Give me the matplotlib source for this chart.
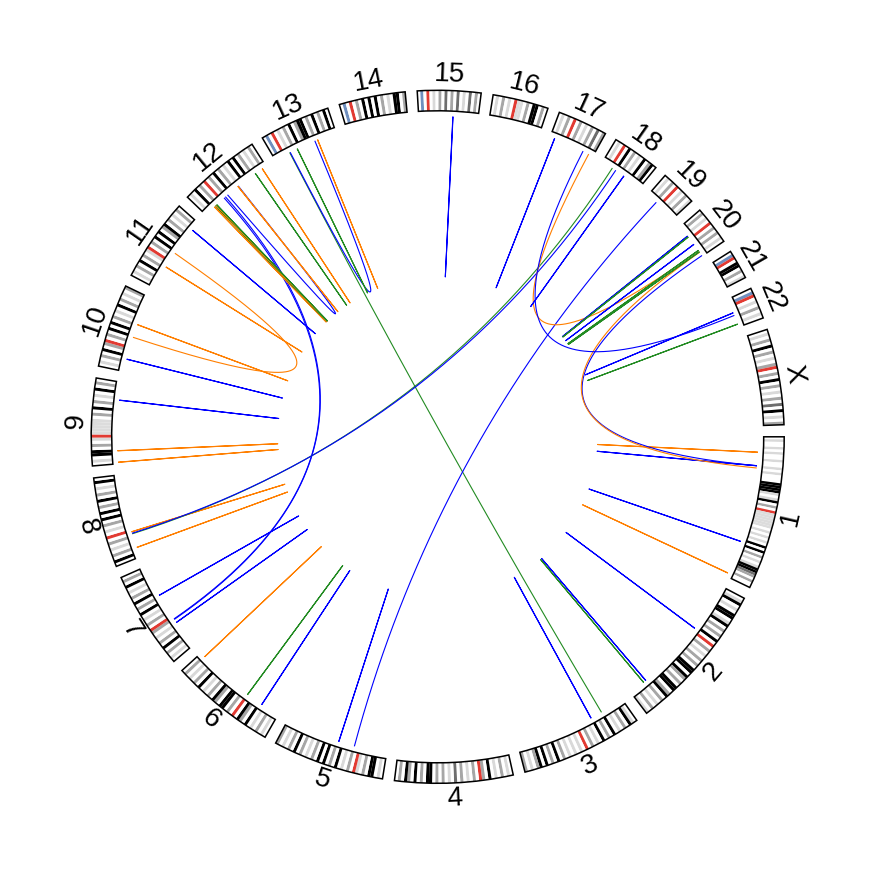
import numpy as np
import matplotlib
matplotlib.use("Agg")
import matplotlib.pyplot as plt
from matplotlib.patches import Wedge

# ---------------- data ----------------
chrom_names = ['1', '2', '3', '4', '5', '6', '7', '8', '9', '10', '11', '12',
               '13', '14', '15', '16', '17', '18', '19', '20', '21', '22', 'X']
chrom_len_mb = [249.25, 243.20, 198.02, 191.15, 180.92, 171.12, 159.14, 146.36,
                141.21, 135.53, 135.01, 133.85, 115.17, 107.35, 102.53, 90.35,
                81.20, 78.08, 59.13, 63.03, 48.13, 51.30, 155.27]

# band stains from p-ter to q-ter, equal-width segments
# w=gneg l=gpos25 m=gpos50 d=gpos75 k=gpos100 r=acen s=stalk v=gvar
band_codes = [
    "wlwwlwlwwlwwlwlww" + "wkkkk" + "lwlkwmw" + "r" + "vvvvvv" + "wlwlwlwkwkwm" + "wlwlkkdmwmww",
    "wlkwlwkkwlkwmwmwkw" + "r" + "wmwlwmwmwkkwkmwmwkkwmkwmwlwmwl",
    "wlkwmwlwkwmwkwlwmw" + "r" + "wlwlwlwmwkwmwkwkmwlwm",
    "wlwmwlwkwm" + "r" + "wmwlwmwdwlwmwmwkkwmwkwmkwmw",
    "wlwkkwmwl" + "r" + "wmwlwkwmwkwkwmwlwmwkwmwlwm",
    "wlwmwlwkwmkw" + "r" + "wmwkkwmkwmwlwkwmwlwmw",
    "wlwmwkwmwlwm" + "r" + "wmwlwkwmwkwmwlwkwmw",
    "wkwmwlwmw" + "r" + "wlwmwkwkwmwkwmwlwkw",
    "wlwkkwmwl" + "r" + "vvvvvwmwkwmwlwkwmw",
    "wlwmwkwm" + "r" + "wmwkwkwmwlwkwmwlwm",
    "wlwmwkwmwl" + "r" + "wmwkwkwmkwmwlwmw",
    "wlwkwmw" + "r" + "wmwkwmwlwkwkwmwlwmw",
    "wsw" + "r" + "wlwmwkwmkkwmwkwmwkw",
    "wsw" + "r" + "wmwkwkwkwmwlwkkwm",
    "wsw" + "r" + "wlwmwdwmwdwlwdwmw",
    "wlwmwlw" + "r" + "vvwmwkkwmw",
    "wlwmw" + "r" + "wmwlwmwdwm",
    "wlw" + "r" + "wkwmwlwkwmkw",
    "wlwmw" + "r" + "wlwmwl",
    "wmwlw" + "r" + "wmwmwlw",
    "ws" + "r" + "wkkwmwl",
    "ws" + "r" + "wlwmwlw",
    "wlwmwkwmwlwm" + "r" + "wmwkwmwlwmwdwkwlwm",
]
stain_colors = {'w': '#FFFFFF', 'l': '#D9D9D9', 'm': '#A6A6A6', 'd': '#6E6E6E',
                'k': '#000000', 'r': '#E23A32', 's': '#6F8FBF', 'v': '#DCDCDC'}

# links (genomic positions in Mb)
link_chr_a = ['1', '1', '1', '1', '1', '1', '2', '2', '2', '3', '3', '5', '5',
              '6', '6', '6', '7', '7', '7', '7', '8', '8', '8', '8', '9', '9',
              '9', '10', '10', '10', '11', '11', '12', '12', '12', '12', '12',
              '12', '12', '12', '13', '13', '13', '15', '17', '17', '17', '18',
              '20', '20', '20', '20', '20', '22', '22']
link_pos_a = [26.5, 50, 50, 54, 184, 243, 86, 210, 215, 62.5, 42, 85, 57,
              33, 63, 162, 104, 48.5, 56, 55, 45.5, 42, 43, 17, 110, 22.4,
              2.5, 21.5, 84, 61, 40.5, 119, 20, 23, 24, 25.5, 51,
              74, 111.5, 126, 29, 81, 42.5, 59, 8, 73, 62, 44,
              20, 22, 38, 51, 54, 25, 46]
link_chr_b = ['1', '1', '20', '20', '1', '1', '2', '2', '2', '3', '13', '5', '19',
              '6', '6', '6', '7', '7', '12', '12', '8', '18', '18', '8', '9', '9',
              '9', '10', '10', '11', '11', '11', '12', '12', '12', '12', '12',
              '12', '12', '12', '13', '13', '13', '15', '17', '20', '22', '18',
              '20', '20', '20', '20', '20', '22', '22']
link_pos_b = [26.8, 50.3, 62, 55, 184.3, 243.3, 86.3, 210.3, 215.3, 62.8, 28, 85.3, 19,
              33.3, 63.3, 162.3, 104.3, 48.8, 43, 46, 45.8, 20, 27, 17.3, 110.3, 22.7,
              2.8, 21.8, 84.3, 69, 40.8, 119.3, 20.3, 23.3, 24.3, 25.8, 75,
              74.3, 111.8, 126.3, 76, 81.3, 42.8, 59.3, 8.3, 52, 30, 44.3,
              20.3, 22.3, 38.3, 51.3, 54.3, 25.3, 46.3]
link_color = ['orange', 'blue', 'blue', 'orange', 'blue', 'orange', 'blue', 'blue',
              'green', 'blue', 'green', 'blue', 'blue', 'blue', 'green', 'orange',
              'blue', 'blue', 'blue', 'blue', 'orange', 'green', 'blue', 'orange',
              'blue', 'orange', 'orange', 'blue', 'orange', 'orange', 'orange',
              'blue', 'orange', 'green', 'orange', 'green', 'blue', 'orange',
              'green', 'orange', 'blue', 'orange', 'green', 'blue', 'blue',
              'orange', 'blue', 'blue', 'blue', 'green', 'blue', 'green', 'green',
              'blue', 'green']
color_map = {'blue': '#0000FF', 'orange': '#FF7F00', 'green': '#228B22'}

# ---------------- geometry ----------------
W = H = 875
CX, CY = 437.7, 436.8
R_LINK, R_IN, R_OUT, R_LABEL = 320.0, 326.0, 346.5, 362.0
GAP = 2.0
DEG_PER_MB = (360.0 - GAP * len(chrom_names)) / sum(chrom_len_mb)

chrom_start = {}
acc = 0.0
for name, ln in zip(chrom_names, chrom_len_mb):
    chrom_start[name] = acc
    acc += ln * DEG_PER_MB + GAP


def screen_angle(chrom, pos):
    return chrom_start[chrom] + pos * DEG_PER_MB


def xy(theta_deg, r):
    t = np.deg2rad(-theta_deg)
    return r * np.cos(t), r * np.sin(t)


fig = plt.figure(figsize=(W / 100, H / 100), dpi=100)
ax = fig.add_axes([0, 0, 1, 1])
ax.set_xlim(-CX, W - CX)
ax.set_ylim(-(H - CY), CY)
ax.set_aspect('equal')
ax.axis('off')

# ideogram
for name, ln, codes in zip(chrom_names, chrom_len_mb, band_codes):
    a0 = chrom_start[name]
    span = ln * DEG_PER_MB
    n = len(codes)
    for i, c in enumerate(codes):
        s = a0 + span * i / n
        e = a0 + span * (i + 1) / n
        ax.add_patch(Wedge((0, 0), R_OUT, -e, -s, width=R_OUT - R_IN,
                           facecolor=stain_colors[c], edgecolor='none',
                           linewidth=0, zorder=2))
    ax.add_patch(Wedge((0, 0), R_OUT, -(a0 + span), -a0, width=R_OUT - R_IN,
                       fill=False, edgecolor='black', linewidth=1.1, zorder=3))
    mid = a0 + span / 2
    phi = (-mid + 180) % 360 - 180
    rot = phi - 90 if phi > 0 else phi + 90
    tx, ty = xy(mid, R_LABEL)
    ax.text(tx, ty, name, rotation=rot, rotation_mode='anchor', ha='center',
            va='center', fontsize=20, family=['Liberation Sans', 'DejaVu Sans'],
            zorder=4)

# links: quadratic Bezier with the circle centre as control point
tt = np.linspace(0, 1, 200)[:, None]
for ca, pa, cb, pb, col in zip(link_chr_a, link_pos_a, link_chr_b, link_pos_b, link_color):
    p0 = np.array(xy(screen_angle(ca, pa), R_LINK))
    p2 = np.array(xy(screen_angle(cb, pb), R_LINK))
    pts = (1 - tt) ** 2 * p0 + tt ** 2 * p2
    ax.plot(pts[:, 0], pts[:, 1], color=color_map[col], linewidth=0.8,
            solid_joinstyle='round', zorder=1)

fig.savefig('out.png', dpi=100)
